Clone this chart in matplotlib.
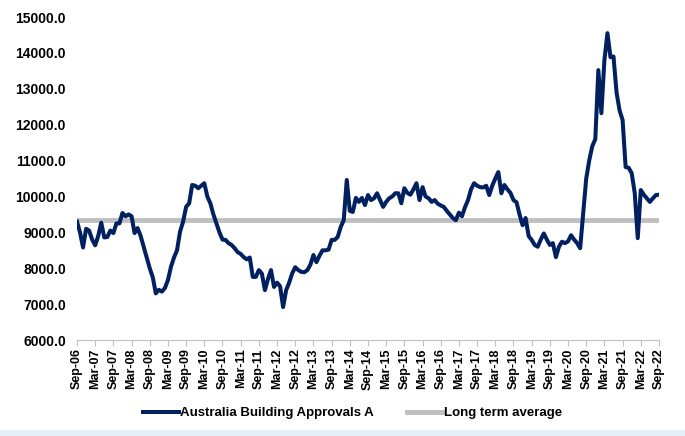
import numpy as np
import pandas as pd
import matplotlib
matplotlib.use("Agg")
import matplotlib.pyplot as plt
from matplotlib.patches import Rectangle

plt.rcParams['font.family'] = ['Liberation Sans', 'DejaVu Sans']

# monthly, Sep-06 .. Sep-22
start_month = "2006-09-01"
approvals = [
    9300, 9000, 8580, 9100, 9050, 8800, 8640, 8900, 9270, 8860, 8870, 9050,
    8980, 9250, 9250, 9540, 9450, 9500, 9450, 8980, 9120, 8900, 8600, 8300,
    8000, 7750, 7300, 7400, 7350, 7450, 7670, 8040, 8300, 8500, 9020, 9300,
    9710, 9810, 10320, 10300, 10230, 10300, 10370, 10000, 9810, 9500, 9250, 9000,
    8800, 8790, 8700, 8650, 8560, 8450, 8400, 8310, 8250, 8300, 7760, 7760,
    7950, 7850, 7390, 7700, 7950, 7480, 7600, 7500, 6920, 7390, 7600, 7860,
    8030, 7950, 7900, 7890, 7950, 8100, 8370, 8170, 8350, 8500, 8500, 8520,
    8790, 8790, 8870, 9150, 9340, 10460, 9600, 9570, 9960, 9850, 9960, 9760,
    10040, 9900, 9950, 10090, 9900, 9710, 9850, 9950, 10000, 10090, 10090, 9810,
    10230, 10100, 10050, 10200, 10370, 9900, 10260, 10000, 9950, 9850, 9900, 9800,
    9750, 9710, 9600, 9500, 9400, 9340, 9550, 9450, 9700, 9900, 10200, 10370,
    10300, 10260, 10250, 10300, 10040, 10300, 10500, 10680, 10090, 10320, 10200, 10100,
    9900, 9840, 9500, 9200, 9400, 8900, 8790, 8650, 8600, 8800, 8970, 8800,
    8650, 8700, 8310, 8600, 8740, 8700, 8750, 8920, 8800, 8700, 8560, 9540,
    10500, 11010, 11400, 11600, 13520, 12320, 13800, 14550, 13880, 13900, 12900, 12400,
    12130, 10820, 10800, 10650, 10100, 8840, 10180, 10050, 9950, 9850, 9950, 10040,
    10050,
]
long_term_avg = 9350

months = pd.date_range(start_month, periods=len(approvals), freq="MS")
x = np.arange(len(approvals))
tick_pos = x[::6]
tick_labels = [m.strftime("%b-%y") for m in months[::6]]

fig = plt.figure(figsize=(6.85, 4.36), dpi=100)
ax = fig.add_axes([0.1124, 0.22, 0.8496, 0.741])

ax.plot(x, [long_term_avg] * len(x), color="#BFBFBF", lw=3.5, label="Long term average", zorder=2)
ax.plot(x, approvals, color="#002060", lw=2.9, label="Australia Building Approvals A", zorder=3)

ax.set_xlim(0, len(x) - 1)
ax.set_ylim(6000, 15000)
ax.set_yticks(np.arange(6000, 15001, 1000))
ax.set_yticklabels([f"{v:.1f}" for v in range(6000, 15001, 1000)], fontsize=10, fontweight="bold")
ax.set_xticks(tick_pos)
ax.set_xticklabels(tick_labels, rotation=90, fontsize=9, fontweight="bold")

for s in ["top", "right", "left"]:
    ax.spines[s].set_visible(False)
ax.spines["bottom"].set_color("#BFBFBF")
ax.tick_params(axis="y", length=0, pad=8)
ax.tick_params(axis="x", length=4, color="#BFBFBF", pad=2)

handles, labels = ax.get_legend_handles_labels()
fig.legend(handles[::-1], labels[::-1], loc="center", bbox_to_anchor=(0.515, 0.052), ncol=2,
           frameon=False, prop={"weight": "bold", "size": 9.5}, handlelength=2.7,
           columnspacing=2.5, handletextpad=0.1)

fig.patches.append(Rectangle((0, 0), 1, 0.014, transform=fig.transFigure,
                             facecolor="#E6EEF8", edgecolor="none"))

fig.savefig("out.png", dpi=100)
